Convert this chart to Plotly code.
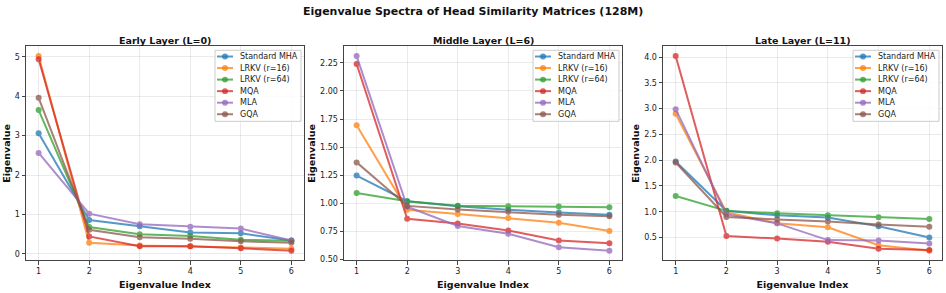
import plotly.graph_objects as go

x_idx = [1, 2, 3, 4, 5, 6]
series_names = ["Standard MHA", "LRKV (r=16)", "LRKV (r=64)", "MQA", "MLA", "GQA"]
colors = ["#1f77b4", "#ff7f0e", "#2ca02c", "#d62728", "#9467bd", "#8c564b"]
panel_titles = ["Early Layer (L=0)", "Middle Layer (L=6)", "Late Layer (L=11)"]

early_mha = [3.06, 0.86, 0.70, 0.54, 0.52, 0.34]
early_lrkv16 = [5.02, 0.28, 0.21, 0.19, 0.16, 0.13]
early_lrkv64 = [3.65, 0.68, 0.50, 0.45, 0.36, 0.33]
early_mqa = [4.94, 0.44, 0.19, 0.19, 0.14, 0.08]
early_mla = [2.56, 1.02, 0.75, 0.69, 0.64, 0.34]
early_gqa = [3.96, 0.61, 0.42, 0.38, 0.32, 0.28]

mid_mha = [1.248, 1.02, 0.975, 0.943, 0.92, 0.90]
mid_lrkv16 = [1.696, 0.943, 0.907, 0.87, 0.828, 0.755]
mid_lrkv64 = [1.092, 1.019, 0.98, 0.975, 0.972, 0.966]
mid_mqa = [2.24, 0.864, 0.822, 0.76, 0.67, 0.647]
mid_mla = [2.31, 0.97, 0.80, 0.73, 0.61, 0.58]
mid_gqa = [1.365, 0.978, 0.945, 0.925, 0.90, 0.887]

late_mha = [1.975, 1.02, 0.93, 0.89, 0.72, 0.50]
late_lrkv16 = [2.90, 0.99, 0.775, 0.70, 0.35, 0.245]
late_lrkv64 = [1.305, 1.017, 0.97, 0.93, 0.895, 0.86]
late_mqa = [4.02, 0.53, 0.48, 0.42, 0.28, 0.26]
late_mla = [2.99, 0.95, 0.775, 0.45, 0.44, 0.385]
late_gqa = [1.955, 0.90, 0.85, 0.81, 0.755, 0.71]

early_ticks = [0, 1, 2, 3, 4, 5]
mid_ticks = [0.50, 0.75, 1.00, 1.25, 1.50, 1.75, 2.00, 2.25]
late_ticks = [0.5, 1.0, 1.5, 2.0, 2.5, 3.0, 3.5, 4.0]

panels = [
    [early_mha, early_lrkv16, early_lrkv64, early_mqa, early_mla, early_gqa],
    [mid_mha, mid_lrkv16, mid_lrkv64, mid_mqa, mid_mla, mid_gqa],
    [late_mha, late_lrkv16, late_lrkv64, late_mqa, late_mla, late_gqa],
]
tick_sets = [
    (early_ticks, [str(t) for t in early_ticks]),
    (mid_ticks, ["%.2f" % t for t in mid_ticks]),
    (late_ticks, ["%.1f" % t for t in late_ticks]),
]

W, H = 946, 293
x_px = [(26, 304), (344, 622), (663, 942)]
y_px = (47, 264)

FONT = "DejaVu Sans"
fig = go.Figure()
layout = dict(
    width=W, height=H, margin=dict(l=0, r=0, t=0, b=0),
    paper_bgcolor="white", plot_bgcolor="white",
    showlegend=False, font=dict(family=FONT, color="#222"),
)
annotations = []
shapes = []

ydom = [1 - y_px[1] / H, 1 - y_px[0] / H]
for p, series in enumerate(panels):
    sfx = "" if p == 0 else str(p + 1)
    xa, ya = "x" + sfx, "y" + sfx
    for name, col, vals in zip(series_names, colors, series):
        fig.add_trace(go.Scatter(
            x=x_idx, y=vals, name=name, mode="lines+markers",
            line=dict(color=col, width=2), marker=dict(color=col, size=6),
            opacity=0.75, xaxis=xa, yaxis=ya,
        ))
    allv = [v for s in series for v in s]
    lo, hi = min(allv), max(allv)
    pad = 0.05 * (hi - lo)
    x0, x1 = x_px[p]
    layout["xaxis" + sfx] = dict(
        domain=[x0 / W, x1 / W], anchor=ya, range=[0.75, 6.25],
        tickvals=x_idx, ticks="outside", ticklen=3.5, tickcolor="#444",
        tickfont=dict(size=8, family=FONT, color="#222"),
        showgrid=True, gridcolor="rgba(0,0,0,0.08)", gridwidth=1,
        showline=True, linecolor="#444", linewidth=1, mirror=True, zeroline=False,
        title=dict(text="<b>Eigenvalue Index</b>", font=dict(size=9.5, family=FONT, color="#111"), standoff=5),
    )
    tv, tt = tick_sets[p]
    layout["yaxis" + sfx] = dict(
        domain=ydom, anchor=xa, range=[lo - pad, hi + pad],
        tickvals=tv, ticktext=tt, ticks="outside", ticklen=3.5, tickcolor="#444",
        tickfont=dict(size=8, family=FONT, color="#222"),
        showgrid=True, gridcolor="rgba(0,0,0,0.08)", gridwidth=1,
        showline=True, linecolor="#444", linewidth=1, mirror=True, zeroline=False,
        title=dict(text="<b>Eigenvalue</b>", font=dict(size=9.5, family=FONT, color="#111"), standoff=2),
    )
    # subplot title
    annotations.append(dict(
        text="<b>%s</b>" % panel_titles[p], x=(x0 + x1) / 2 / W, y=1 - 41 / H,
        xref="paper", yref="paper", showarrow=False, xanchor="center", yanchor="middle",
        font=dict(size=9.5, family=FONT, color="#111"),
    ))
    # legend box (axes-domain coords)
    aw = x1 - x0
    ah = y_px[1] - y_px[0]
    bx0 = 1 - 89 / aw
    bx1 = 1 - 3 / aw
    by1 = 1 - 4 / ah
    by0 = 1 - 76 / ah
    shapes.append(dict(
        type="rect", xref=xa + " domain", yref=ya + " domain",
        x0=bx0, x1=bx1, y0=by0, y1=by1,
        line=dict(color="#cccccc", width=1), fillcolor="rgba(255,255,255,0.85)", layer="above",
    ))
    for i, (name, col) in enumerate(zip(series_names, colors)):
        yy = 1 - (10.3 + 11.7 * i) / ah
        lx0 = bx0 + 2 / aw
        lx1 = bx0 + 18 / aw
        shapes.append(dict(
            type="line", xref=xa + " domain", yref=ya + " domain",
            x0=lx0, x1=lx1, y0=yy, y1=yy,
            line=dict(color=col, width=2), opacity=0.75, layer="above",
        ))
        cx = bx0 + 10 / aw
        rx = 3 / aw
        ry = 3 / ah
        shapes.append(dict(
            type="circle", xref=xa + " domain", yref=ya + " domain",
            x0=cx - rx, x1=cx + rx, y0=yy - ry, y1=yy + ry,
            line=dict(color=col, width=0), fillcolor=col, opacity=0.75, layer="above",
        ))
        annotations.append(dict(
            text=name, xref=xa + " domain", yref=ya + " domain",
            x=bx0 + 23 / aw, y=yy, xanchor="left", yanchor="middle", showarrow=False,
            font=dict(size=8, family=FONT, color="#222"),
        ))

annotations.append(dict(
    text="<b>Eigenvalue Spectra of Head Similarity Matrices (128M)</b>",
    x=0.5, y=1 - 12 / H, xref="paper", yref="paper", showarrow=False,
    xanchor="center", yanchor="middle", font=dict(size=11, family=FONT, color="#111"),
))
layout["annotations"] = annotations
layout["shapes"] = shapes
fig.update_layout(**layout)
fig.write_html(
    "out.html",
    config={"displayModeBar": False},
    post_script="document.body.style.margin='0';document.body.style.overflow='hidden';",
)
